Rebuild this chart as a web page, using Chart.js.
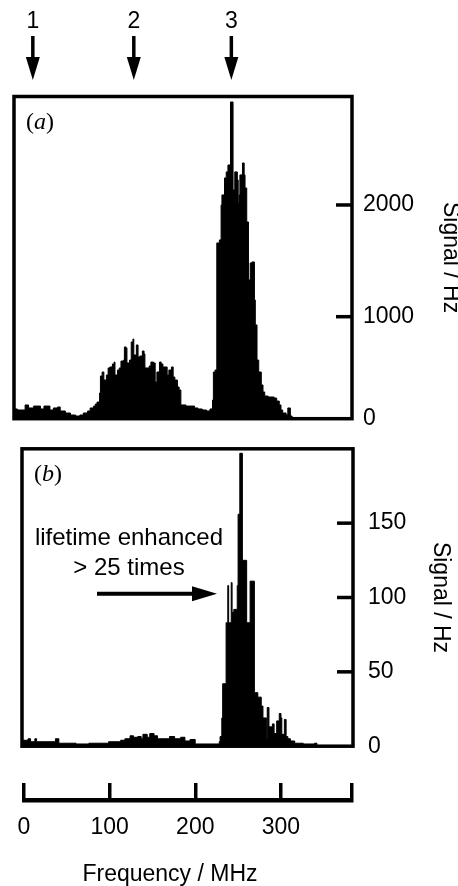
<!DOCTYPE html>
<html>
<head>
<meta charset="utf-8">
<script src="https://cdn.jsdelivr.net/npm/chart.js@4.4.1/dist/chart.umd.min.js"></script>
<style>
  html, body { margin: 0; padding: 0; background: #fff; overflow: hidden; }
  #wrap { position: relative; width: 458px; height: 886px; }
  canvas { position: absolute; left: 0; }
</style>
</head>
<body>
<div id="wrap">
  <canvas id="panelA" width="458" height="445" style="top:0"></canvas>
  <canvas id="panelB" width="458" height="355" style="top:420px"></canvas>
  <canvas id="freqAxis" width="458" height="116" style="top:770px"></canvas>
</div>
<script>
// panel (a): frequency (MHz) where each histogram step starts, signal (Hz)
const freqA = [-12, -8, 1, 5, 11, 19, 23, 30, 34, 39,
  42, 48, 54, 60, 65, 69, 74, 77, 81, 83,
  85, 88, 89, 91, 93, 96, 98, 100, 103, 105,
  106, 109, 111, 113, 116, 117, 119, 120, 123, 125,
  127, 128, 131, 133, 135, 138, 140, 141, 146, 148,
  151, 153, 155, 158, 160, 162, 167, 169, 172, 174,
  176, 179, 181, 183, 189, 199, 203, 208, 213, 217,
  220, 221, 223, 225, 228, 230, 231, 234, 236, 238,
  241, 244, 246, 249, 250, 251, 252, 255, 257, 258,
  260, 262, 264, 266, 269, 270, 272, 274, 277, 279,
  281, 285, 292, 295, 298, 300, 302, 306, 308, 311,
  313, 383];
const signalA = [174, 165, 210, 183, 200, 174, 200, 165, 183, 192,
  156, 138, 120, 111, 120, 138, 156, 183, 200, 218,
  236, 317, 469, 505, 433, 478, 541, 550, 577, 594,
  478, 523, 541, 603, 612, 729, 720, 586, 612, 774,
  800, 657, 747, 639, 648, 693, 666, 541, 559, 594,
  586, 415, 505, 594, 577, 550, 478, 523, 550, 460,
  433, 371, 344, 210, 200, 183, 174, 165, 156, 174,
  254, 505, 523, 1660, 1687, 2000, 2090, 2242, 2296, 2358,
  2922, 2134, 2296, 2224, 2018, 2090, 2269, 2376, 2269, 2152,
  1848, 1329, 1481, 1490, 1150, 926, 612, 505, 389, 326,
  290, 281, 272, 245, 210, 165, 138, 120, 183, 111,
  0, 0];

// panel (b)
const freqB = [-2, 5, 8, 13, 15, 37, 41, 61, 76, 99,
  113, 118, 124, 128, 133, 137, 139, 144, 147, 152,
  156, 170, 176, 183, 188, 194, 200, 228, 229, 231,
  232, 236, 238, 239, 242, 243, 245, 249, 250, 252,
  255, 260, 264, 269, 273, 277, 279, 283, 284, 286,
  290, 292, 295, 298, 300, 301, 304, 306, 308, 311,
  316, 326, 339, 342, 384];
const signalB = [4, 5, 3, 5, 3, 5, 2, 1.5, 2, 3,
  4, 5, 7, 6, 6.5, 5, 8, 6, 8.5, 7,
  5, 6.5, 5, 6, 3.5, 4.5, 1.5, 3, 6.5, 19,
  42, 83, 108, 83, 110, 90, 92, 108, 156, 197,
  125, 83, 111, 36, 33, 27, 19, 5, 26, 13,
  15, 8.5, 17, 22, 19, 8, 18, 6.5, 5, 3.5,
  2, 1.5, 2, 0, 0];

const ticksA = [0, 1000, 2000];
const floorA = 87;          // panel (a) box bottom sits a little above true zero
const ticksB = [0, 50, 100, 150];
const freqTicks = [0, 100, 200, 300];
const markerFreqs = [10, 128, 242];
const markerLabels = ['1', '2', '3'];

Chart.defaults.font.family = '"Liberation Sans", Arial, sans-serif';
Chart.defaults.color = '#000';
Chart.defaults.animation = false;

const frame = {
  id: 'frame',
  afterDatasetsDraw(chart) {
    const {ctx, chartArea: a, scales: {y}} = chart;
    ctx.save();
    ctx.strokeStyle = '#000';
    ctx.lineWidth = 3.5;
    ctx.strokeRect(a.left, a.top, a.right - a.left, a.bottom - a.top);
    // inward ticks on the right edge
    y.ticks.forEach(t => {
      if (t.value <= y.min) return;
      const py = y.getPixelForValue(t.value);
      ctx.beginPath();
      ctx.moveTo(a.right - 16, py);
      ctx.lineTo(a.right, py);
      ctx.stroke();
    });
    ctx.restore();
  }
};

const panelLabel = {
  id: 'panelLabel',
  afterDraw(chart, args, opts) {
    const {ctx, chartArea: a} = chart;
    const serif = '"Liberation Serif", "Times New Roman", serif';
    let x = a.left + 12;
    const y = a.top + 32;
    ctx.save();
    ctx.fillStyle = '#000';
    ctx.textBaseline = 'alphabetic';
    ctx.font = '24px ' + serif;
    ctx.fillText('(', x, y);
    x += ctx.measureText('(').width;
    ctx.font = 'italic 24px ' + serif;
    ctx.fillText(opts.letter, x, y);
    x += ctx.measureText(opts.letter).width;
    ctx.font = '24px ' + serif;
    ctx.fillText(')', x, y);
    ctx.restore();
  }
};

const markers = {
  id: 'markers',
  afterDraw(chart) {
    const {ctx, scales: {x}} = chart;
    ctx.save();
    ctx.fillStyle = '#000';
    ctx.strokeStyle = '#000';
    ctx.font = '23px "Liberation Sans", Arial, sans-serif';
    ctx.textAlign = 'center';
    markerFreqs.forEach((f, i) => {
      const px = x.getPixelForValue(f);
      ctx.fillText(markerLabels[i], px, 28);
      ctx.lineWidth = 3.5;
      ctx.beginPath();
      ctx.moveTo(px, 36);
      ctx.lineTo(px, 60);
      ctx.stroke();
      ctx.beginPath();
      ctx.moveTo(px - 7, 57);
      ctx.lineTo(px + 7, 57);
      ctx.lineTo(px, 80);
      ctx.closePath();
      ctx.fill();
    });
    ctx.restore();
  }
};

const lifetimeNote = {
  id: 'lifetimeNote',
  afterDraw(chart) {
    const {ctx, chartArea: a} = chart;
    ctx.save();
    ctx.fillStyle = '#000';
    ctx.strokeStyle = '#000';
    ctx.font = '24px "Liberation Sans", Arial, sans-serif';
    ctx.textAlign = 'center';
    ctx.fillText('lifetime enhanced', a.left + 107, a.top + 96);
    ctx.fillText('> 25 times', a.left + 107, a.top + 126);
    const ay = a.top + 145;
    ctx.lineWidth = 4;
    ctx.beginPath();
    ctx.moveTo(a.left + 75, ay);
    ctx.lineTo(a.left + 172, ay);
    ctx.stroke();
    ctx.beginPath();
    ctx.moveTo(a.left + 170, ay - 7.5);
    ctx.lineTo(a.left + 195, ay);
    ctx.lineTo(a.left + 170, ay + 7.5);
    ctx.closePath();
    ctx.fill();
    ctx.restore();
  }
};

const axisTitle = {
  id: 'axisTitle',
  afterDraw(chart) {
    const {ctx, chartArea: a} = chart;
    ctx.save();
    ctx.fillStyle = '#000';
    ctx.font = '23px "Liberation Sans", Arial, sans-serif';
    ctx.textAlign = 'center';
    ctx.fillText('Frequency / MHz', a.left + 146, a.bottom + 81);
    ctx.restore();
  }
};

function histogram(freqs, values) {
  return {
    data: freqs.map((f, i) => ({x: f, y: values[i]})),
    stepped: true,
    fill: 'start',
    borderColor: '#000',
    backgroundColor: '#000',
    borderWidth: 1,
    pointRadius: 0,
  };
}

function signalAxis(min, max, ticks, labelOf, width, pad, titlePad) {
  return {
    position: 'right',
    min: min,
    max: max,
    afterBuildTicks: (s) => { s.ticks = ticks.map(v => ({value: v})); },
    afterFit: (s) => { s.width = width; },
    grid: {display: false, drawTicks: false},
    border: {display: false},
    ticks: {padding: pad, font: {size: 23}, callback: labelOf},
    title: {display: true, text: 'Signal / Hz', font: {size: 23}, padding: {top: titlePad, bottom: 0}},
  };
}

new Chart(document.getElementById('panelA'), {
  type: 'line',
  data: {datasets: [histogram(freqA, signalA)]},
  options: {
    responsive: false,
    devicePixelRatio: 1,
    layout: {padding: {left: 14, top: 96.5, right: 0, bottom: 26.3}},
    plugins: {legend: {display: false}, tooltip: {enabled: false}, panelLabel: {letter: 'a'}},
    scales: {
      x: {type: 'linear', min: -12, max: 383, display: false},
      y: signalAxis(floorA, 2971, [floorA, 1000, 2000],
        (v) => (v === floorA ? ticksA[0] : v), 106, 11, -6),
    },
  },
  plugins: [frame, panelLabel, markers],
});

new Chart(document.getElementById('panelB'), {
  type: 'line',
  data: {datasets: [histogram(freqB, signalB)]},
  options: {
    responsive: false,
    devicePixelRatio: 1,
    layout: {padding: {left: 22, top: 20, right: 0, bottom: 14.5}},
    plugins: {legend: {display: false}, tooltip: {enabled: false}, panelLabel: {letter: 'b'}},
    scales: {
      x: {type: 'linear', min: -2, max: 384, display: false},
      y: signalAxis(0, 200, ticksB, (v) => v, 105, 15, 4),
    },
  },
  plugins: [frame, panelLabel, lifetimeNote],
});

new Chart(document.getElementById('freqAxis'), {
  type: 'scatter',
  data: {datasets: []},
  options: {
    responsive: false,
    devicePixelRatio: 1,
    layout: {padding: {left: 24, top: 13, right: 106, bottom: 46}},
    plugins: {legend: {display: false}, tooltip: {enabled: false}},
    scales: {
      x: {
        type: 'linear',
        min: 0,
        max: 383,
        afterBuildTicks: (s) => { s.ticks = freqTicks.concat([s.max]).map(v => ({value: v})); },
        afterFit: (s) => { s.height = 40; },
        grid: {display: true, drawOnChartArea: true, drawTicks: false, color: '#000', lineWidth: 3.5},
        border: {display: true, color: '#000', width: 4.5},
        ticks: {padding: 14, font: {size: 23}, maxRotation: 0, autoSkip: false,
          callback: (v) => (freqTicks.includes(v) ? v : '')},
      },
      y: {display: false, min: 0, max: 1},
    },
  },
  plugins: [axisTitle],
});
</script>
</body>
</html>
